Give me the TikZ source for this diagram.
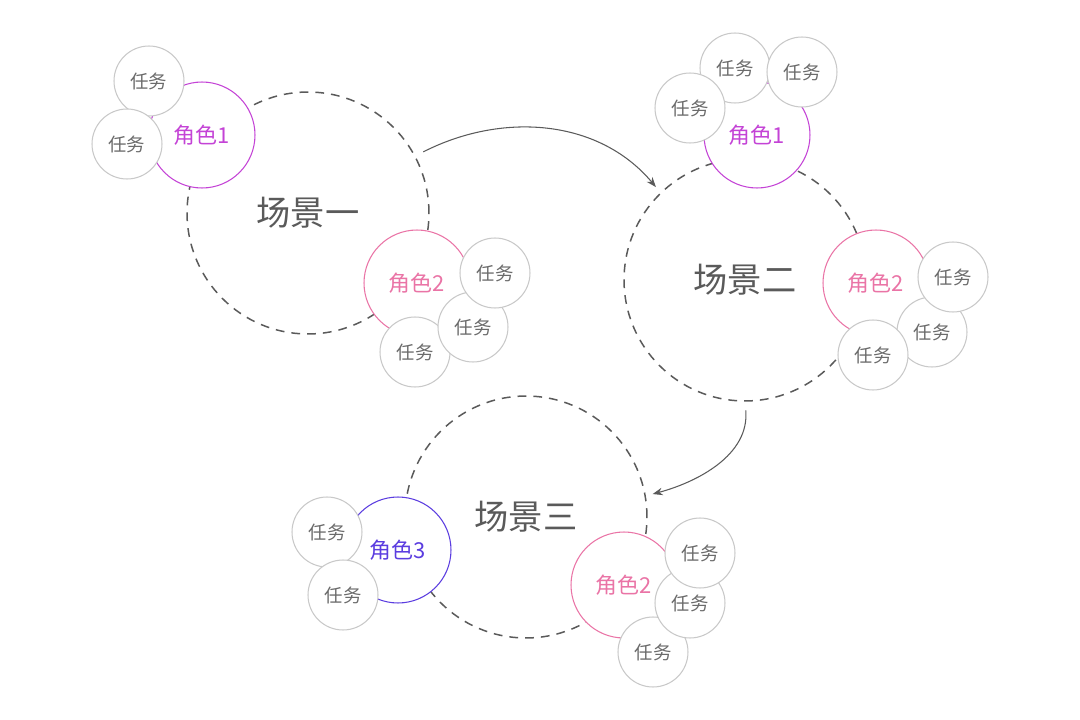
\documentclass[tikz,border=0pt]{standalone}
\usepackage{fontspec}
\newfontfamily\cjk{Noto Sans CJK SC}
\usepackage{tikz}
\usetikzlibrary{arrows.meta}
\definecolor{dashgray}{HTML}{5A5A5A}
\definecolor{taskgray}{HTML}{C9C9C9}
\definecolor{roleA}{HTML}{C443D6}
\definecolor{roleB}{HTML}{EA74A6}
\definecolor{roleC}{HTML}{5B3DE0}

\begin{document}
\begin{tikzpicture}[x=0.02cm,y=-0.02cm,>=Stealth,font=\cjk,
  scene/.style={circle,draw=dashgray,line width=0.85pt,dash pattern=on 5pt off 4pt,fill=white,
    minimum size=4.84cm,inner sep=0pt,text=dashgray,font=\cjk\fontsize{19.5}{22}\selectfont},
  role/.style={circle,draw=#1,line width=0.6pt,fill=white,minimum size=2.12cm,inner sep=0pt,
    text=#1,font=\cjk\fontsize{12.5}{14}\selectfont},
  task/.style={circle,draw=taskgray,line width=0.6pt,fill=white,minimum size=1.4cm,inner sep=0pt,
    text=dashgray!90,font=\cjk\fontsize{10.5}{12}\selectfont},
  flow/.style={->,draw=dashgray,line width=0.6pt,shorten <=5pt,shorten >=4pt}]
  \useasboundingbox (0,0) rectangle (1080,720);
  % scene one
  \node[scene] (s1) at (308,213) {场景一};
  \node[role=roleA] (s1r1) at (202,135) {角色1};
  \node[task] (s1t1) at (149,81) {任务};
  \node[task] (s1t2) at (127,144) {任务};
  \node[role=roleB] (s1r2) at (417,283) {角色2};
  \node[task] (s1t5) at (415,352) {任务};
  \node[task] (s1t4) at (473,327) {任务};
  \node[task] (s1t3) at (495,273) {任务};
  % scene two
  \node[scene] (s2) at (745,280) {场景二};
  \node[role=roleA] (s2r1) at (757,135) {角色1};
  \node[task] (s2t2) at (735,68) {任务};
  \node[task] (s2t3) at (802,72) {任务};
  \node[task] (s2t1) at (690,108) {任务};
  \node[role=roleB] (s2r2) at (876,283) {角色2};
  \node[task] (s2t5) at (932,332) {任务};
  \node[task] (s2t6) at (873,355) {任务};
  \node[task] (s2t4) at (953,277) {任务};
  % scene three
  \node[scene] (s3) at (526,517) {场景三};
  \node[role=roleC] (s3r3) at (398,550) {角色3};
  \node[task] (s3t1) at (327,532) {任务};
  \node[task] (s3t2) at (343,595) {任务};
  \node[role=roleB] (s3r2) at (624,585) {角色2};
  \node[task] (s3t5) at (653,652) {任务};
  \node[task] (s3t4) at (690,603) {任务};
  \node[task] (s3t3) at (700,553) {任务};
  % transitions
  \draw[flow] (s1.28) to[out=27,in=130] (s2.134);
  \draw[flow] (s2.-90) to[out=-85,in=15] (s3.10);
\end{tikzpicture}
\end{document}
